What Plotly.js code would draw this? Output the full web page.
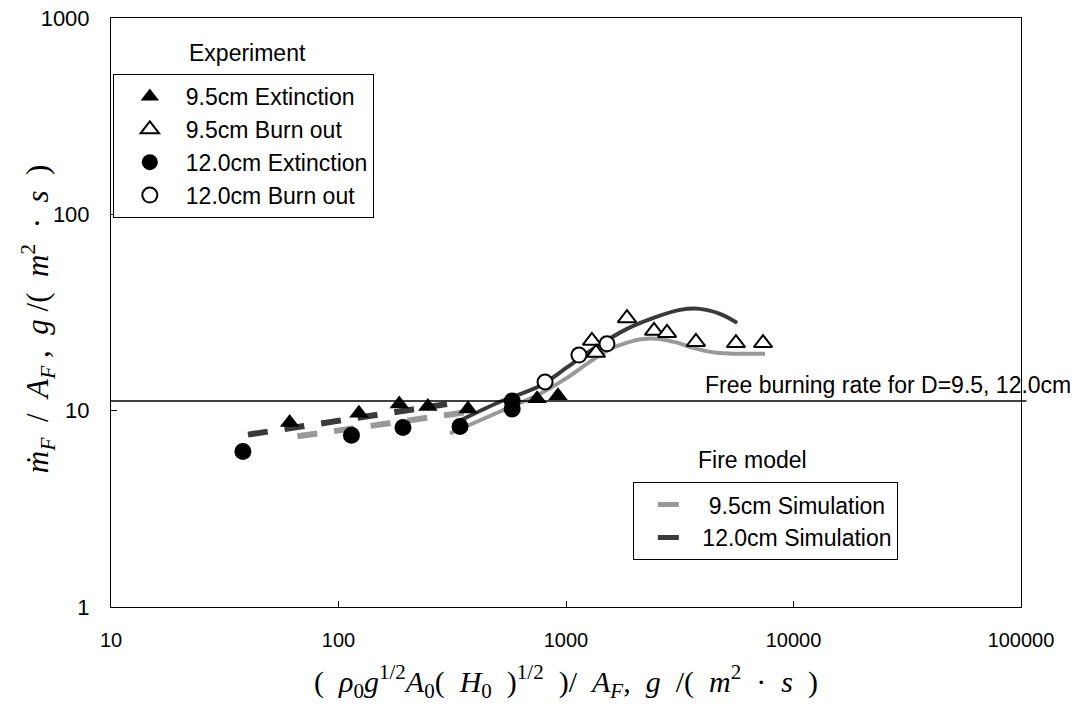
<!DOCTYPE html>
<html>
<head>
<meta charset="utf-8">
<script src="https://cdn.plot.ly/plotly-3.0.1.min.js"></script>
<style>
  html, body { margin: 0; padding: 0; background: #ffffff; }
  #chart { width: 1080px; height: 706px; }
</style>
</head>
<body>
<div id="chart"></div>
<script>
// ---- data ----
const ext95_x = [61, 123, 185, 247, 371, 746, 922];
const ext95_y = [8.7, 9.7, 10.8, 10.5, 10.2, 11.5, 11.9];

const bo95_x = [1300, 1355, 1854, 2437, 2780, 3725, 5585, 7345];
const bo95_y = [22.7, 19.7, 29.6, 25.5, 24.9, 22.4, 22.1, 22.1];

const ext120_x = [38, 114, 192, 342, 580, 580];
const ext120_y = [6.2, 7.5, 8.2, 8.3, 11.2, 10.2];

const bo120_x = [809, 1140, 1514];
const bo120_y = [14.0, 19.2, 21.9];

const sim95dash_x = [66, 360];
const sim95dash_y = [7.4, 9.8];
const sim95_x = [309, 513, 769, 1009, 1236, 1514, 1854, 2178, 2588, 3076, 3612, 4613, 5820, 7500];
const sim95_y = [7.65, 9.9, 12.2, 14.7, 17.3, 20.2, 22.2, 23.2, 23.2, 22.2, 20.9, 19.7, 19.5, 19.5];

const sim120dash_x = [40, 300];
const sim120dash_y = [7.55, 10.8];
const sim120_x = [342, 513, 769, 1009, 1315, 1854, 2410, 3170, 3880, 4754, 5650];
const sim120_y = [8.9, 11.1, 13.4, 16.6, 20.6, 26.1, 29.6, 32.6, 33.0, 31.1, 28.0];

const freeBurnRate = 11.2;

const xTickVals = [10, 100, 1000, 10000, 100000];
const xTickText = ['10', '100', '1000', '10000', '100000'];
const yTickVals = [1, 10, 100, 1000];
const yTickText = ['1', '10', '100', '1000'];

const legendNames = ['9.5cm Extinction', '9.5cm Burn out', '12.0cm Extinction', '12.0cm Burn out'];
const simNames = ['\u00a09.5cm Simulation', '12.0cm Simulation'];

// ---- styles ----
const LIGHT = '#999999';
const DARK = '#3a3a3a';
const SANS = 'Liberation Sans, Arial, sans-serif';
const SERIF = 'Liberation Serif, Times New Roman, serif';
const S = '\u00a0';

const traces = [
  { x: sim120dash_x, y: sim120dash_y, mode: 'lines', showlegend: false,
    line: { color: DARK, width: 6, dash: '20px,17px' } },
  { x: sim95dash_x, y: sim95dash_y, mode: 'lines', showlegend: false,
    line: { color: LIGHT, width: 6, dash: '20px,17px' } },
  { x: sim95_x, y: sim95_y, mode: 'lines', showlegend: false,
    line: { color: LIGHT, width: 4, shape: 'spline', smoothing: 1 } },
  { x: sim120_x, y: sim120_y, mode: 'lines', showlegend: false,
    line: { color: DARK, width: 4, shape: 'spline', smoothing: 1 } },

  { x: ext95_x, y: ext95_y, mode: 'markers', name: legendNames[0], legend: 'legend',
    marker: { symbol: 'triangle-up', size: 17, color: '#000000' } },
  { x: bo95_x, y: bo95_y, mode: 'markers', name: legendNames[1], legend: 'legend',
    marker: { symbol: 'triangle-up', size: 16, color: '#ffffff', line: { color: '#000000', width: 2 } } },
  { x: ext120_x, y: ext120_y, mode: 'markers', name: legendNames[2], legend: 'legend',
    marker: { symbol: 'circle', size: 17, color: '#000000' } },
  { x: bo120_x, y: bo120_y, mode: 'markers', name: legendNames[3], legend: 'legend',
    marker: { symbol: 'circle', size: 15, color: '#ffffff', line: { color: '#000000', width: 2 } } },

  { x: [null], y: [null], mode: 'markers', name: simNames[0], legend: 'legend2',
    marker: { symbol: 'line-ew', size: 15, color: LIGHT, line: { color: LIGHT, width: 6 } } },
  { x: [null], y: [null], mode: 'markers', name: simNames[1], legend: 'legend2',
    marker: { symbol: 'line-ew', size: 15, color: DARK, line: { color: DARK, width: 6 } } }
];

const xTitle = '(' + S + S + '<i>ρ</i><sub>0</sub><i>g</i><sup>1/2</sup><i>A</i><sub>0</sub>(' + S + S + '<i>H</i><sub>0</sub>' + S + S + ')<sup>1/2</sup>' + S + S + ')/' + S + S + '<i>A</i><sub><i>F</i></sub>,' + S + S + '<i>g</i>' + S + S + '/(' + S + S + '<i>m</i><sup>2</sup>' + S + S + '·' + S + S + '<i>s</i>' + S + S + ')';
const yTitle = '<i>ṁ</i><sub><i>F</i></sub>' + S + S + '/' + S + S + '<i>A</i><sub><i>F</i></sub>' + S + ',' + S + S + '<i>g</i>' + S + '/(' + S + S + '<i>m</i><sup>2</sup>' + S + S + '·' + S + S + '<i>s</i>' + S + S + ')';

const layout = {
  width: 1080, height: 706,
  margin: { l: 111, r: 59, t: 18, b: 99 },
  paper_bgcolor: '#ffffff', plot_bgcolor: '#ffffff',
  font: { family: SANS, color: '#000000', size: 20 },
  showlegend: true,
  xaxis: {
    type: 'log', range: [1, 5],
    tickmode: 'array', tickvals: xTickVals, ticktext: xTickText,
    ticks: 'inside', ticklen: 6, tickcolor: '#000000', tickwidth: 1,
    showline: true, linecolor: '#000000', linewidth: 1, mirror: true,
    showgrid: false, zeroline: false,
    tickfont: { family: SANS, size: 20 }, ticklabelstandoff: 15,
    title: { text: xTitle, font: { family: SERIF, size: 30 }, standoff: 20 }
  },
  yaxis: {
    type: 'log', range: [0, 3],
    tickmode: 'array', tickvals: yTickVals, ticktext: yTickText,
    ticks: 'inside', ticklen: 6, tickcolor: '#000000', tickwidth: 1,
    showline: true, linecolor: '#000000', linewidth: 1, mirror: true,
    showgrid: false, zeroline: false,
    tickfont: { family: SANS, size: 22 }, ticklabelstandoff: 16
  },
  legend: {
    x: 0.002, xanchor: 'left', y: 0.905, yanchor: 'top',
    bgcolor: '#ffffff', bordercolor: '#000000', borderwidth: 1,
    itemwidth: 62,
    font: { family: SANS, size: 23 }
  },
  legend2: {
    x: 0.574, xanchor: 'left', y: 0.212, yanchor: 'top',
    bgcolor: '#ffffff', bordercolor: '#000000', borderwidth: 1,
    itemwidth: 58,
    font: { family: SANS, size: 23 }
  },
  shapes: [
    { type: 'line', xref: 'paper', yref: 'y', x0: 0, x1: 1.006, y0: freeBurnRate, y1: freeBurnRate,
      line: { color: '#000000', width: 1.5 } }
  ],
  annotations: [
    { xref: 'paper', yref: 'paper', x: -0.080, y: 0.489, xanchor: 'center', yanchor: 'middle',
      textangle: -90, text: yTitle, showarrow: false, font: { family: SERIF, size: 31 } },
    { xref: 'paper', yref: 'paper', x: 0.651, y: 0.377, xanchor: 'left', yanchor: 'middle',
      text: 'Free burning rate for D=9.5, 12.0cm', showarrow: false, font: { family: SANS, size: 23 } },
    { xref: 'paper', yref: 'paper', x: 0.083, y: 0.94, xanchor: 'left', yanchor: 'middle',
      text: 'Experiment', showarrow: false, font: { family: SANS, size: 23 } },
    { xref: 'paper', yref: 'paper', x: 0.643, y: 0.249, xanchor: 'left', yanchor: 'middle',
      text: 'Fire model', showarrow: false, font: { family: SANS, size: 23 } }
  ]
};

Plotly.newPlot('chart', traces, layout, { displayModeBar: false, staticPlot: true });
</script>
</body>
</html>
